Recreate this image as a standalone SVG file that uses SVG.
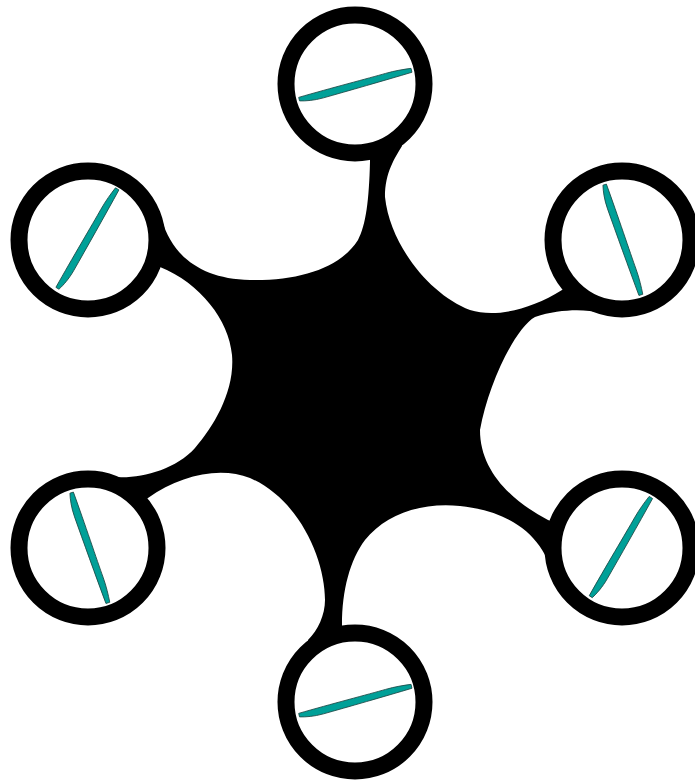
<svg xmlns="http://www.w3.org/2000/svg" width="695" height="780" viewBox="0 0 695 780">
  <style>
    .rotor { fill: #ffffff; stroke: #000000; stroke-width: 17; }
    .blade { fill: #00a098; stroke: #1d4a47; stroke-width: 0.8; stroke-linejoin: round; }
    .frame { fill: #000000; stroke: none; }
  </style>
  <defs>
    <path id="blade" d="M-58,-1.6 C-25,-3.2 15,-4 32,-4.8 C42,-5.2 50,-4.6 58,-3.8 L58,0.2 C30,1.8 -10,3.6 -34,4.6 C-44,5 -52,3.6 -58,2 Z"/>
  </defs>
  <rect width="695" height="780" fill="#ffffff"/>
  <g id="connectors">
    <path id="frame" class="frame" d="M162,220 C172,255 200,279 250,280 C300,281 340,268 358,240 C366,225 369,200 370,162 L370,140 L400,140 L402,146 C395,158 385,172 385,197 C390,245 430,295 470,310 C495,318 530,310 562,290 L600,260 L600,313 C585,309 560,309 535,317 C515,328 488,385 480,430 C480,470 510,500 548,520 L600,540 L553,580 C548,545 520,512 460,506 C420,502 385,515 365,540 C350,560 342,590 342,625 L342,660 L308,660 L308,640 C318,630 325,615 325,600 C325,560 300,500 250,478 C220,466 180,475 148,498 L100,540 L115,477 C140,479 175,470 195,448 C215,425 235,390 232,355 C229,320 200,283 160,267 L100,250 Z"/>
  </g>
  <g id="rotor-top">
    <circle class="rotor" cx="355" cy="84" r="69"/>
    <use href="#blade" class="blade" transform="translate(355.5,85.5) rotate(-13.4)"/>
  </g>
  <g id="rotor-left-top">
    <circle class="rotor" cx="88" cy="240" r="69"/>
    <use href="#blade" class="blade" transform="translate(88,239) rotate(-58)"/>
  </g>
  <g id="rotor-right-top">
    <circle class="rotor" cx="622" cy="240" r="69"/>
    <use href="#blade" class="blade" transform="translate(622,240) rotate(72.8)"/>
  </g>
  <g id="rotor-left-bottom">
    <circle class="rotor" cx="88" cy="548" r="69"/>
    <use href="#blade" class="blade" transform="translate(89,548) rotate(72.8)"/>
  </g>
  <g id="rotor-right-bottom">
    <circle class="rotor" cx="622" cy="548" r="69"/>
    <use href="#blade" class="blade" transform="translate(621.5,547.5) rotate(-57.8)"/>
  </g>
  <g id="rotor-bottom">
    <circle class="rotor" cx="355" cy="702" r="69"/>
    <use href="#blade" class="blade" transform="translate(355.5,701.5) rotate(-13.4)"/>
  </g>
</svg>
